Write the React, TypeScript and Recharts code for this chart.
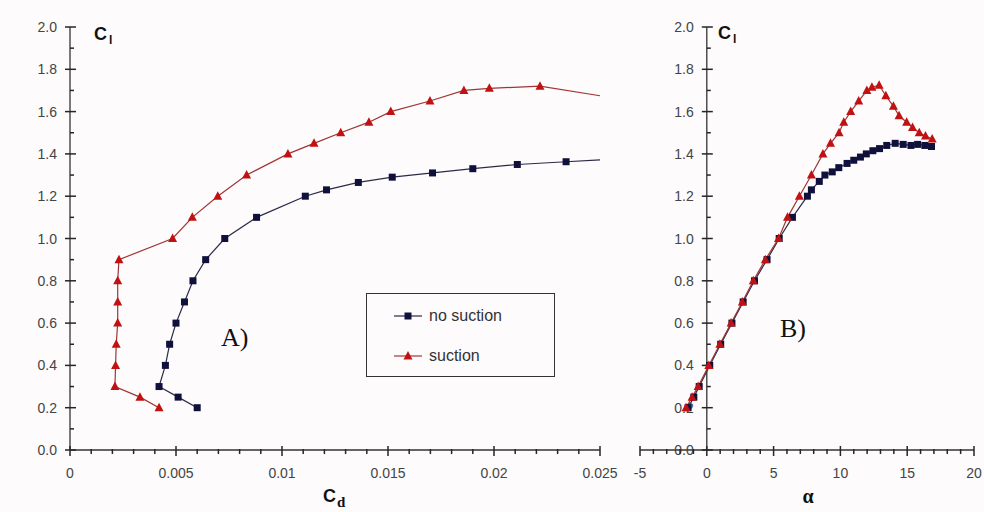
import React from 'react';
import { LineChart, Line, XAxis, YAxis, ReferenceLine, ReferenceDot, Legend } from 'recharts';

const SANS = '"Liberation Sans", Arial, sans-serif';
const SERIF = '"Liberation Serif", "Times New Roman", serif';
const AXIS = '#333333';
const TICK_LINE = '#262626';
const TICK_TEXT = '#444444';
const NAVY = '#10103c';
const NAVY_LINE = '#2b2b45';
const RED = '#c01212';
const RED_LINE = '#a03535';

// ---- Panel A: Cl vs Cd ----
const aNoSuctionCd = [0.006, 0.0051, 0.0042, 0.0045, 0.0047, 0.005, 0.0054, 0.0058, 0.0064, 0.0073, 0.0088, 0.0111, 0.0121, 0.0136, 0.0152, 0.0171, 0.019, 0.0211, 0.0234];
const aNoSuctionCl = [0.2, 0.25, 0.3, 0.4, 0.5, 0.6, 0.7, 0.8, 0.9, 1.0, 1.1, 1.2, 1.23, 1.265, 1.29, 1.31, 1.33, 1.35, 1.363];
const aNoSuctionTail = { cd: 0.025, cl: 1.372 };

const aSuctionCd = [0.0042, 0.0033, 0.00212, 0.00215, 0.00218, 0.00225, 0.00225, 0.00225, 0.00231, 0.00484, 0.00577, 0.00697, 0.00833, 0.01028, 0.01151, 0.01277, 0.0141, 0.01513, 0.01698, 0.01858, 0.01978, 0.02217];
const aSuctionCl = [0.2, 0.25, 0.3, 0.4, 0.5, 0.6, 0.7, 0.8, 0.9, 1.0, 1.1, 1.2, 1.3, 1.4, 1.45, 1.5, 1.55, 1.6, 1.65, 1.7, 1.71, 1.72];
const aSuctionTail = { cd: 0.025, cl: 1.675 };

// ---- Panel B: Cl vs alpha ----
const bNoSuctionAlpha = [-1.4, -0.97, -0.57, 0.22, 1.04, 1.88, 2.72, 3.57, 4.51, 5.42, 6.41, 7.53, 7.83, 8.42, 8.84, 9.39, 9.88, 10.5, 11.0, 11.5, 11.94, 12.43, 12.93, 13.47, 14.1, 14.7, 15.28, 15.78, 16.32, 16.82];
const bNoSuctionCl = [0.2, 0.25, 0.3, 0.4, 0.5, 0.6, 0.7, 0.8, 0.9, 1.0, 1.1, 1.2, 1.23, 1.27, 1.3, 1.315, 1.335, 1.355, 1.37, 1.385, 1.4, 1.415, 1.425, 1.44, 1.45, 1.445, 1.44, 1.445, 1.44, 1.435];

const bSuctionAlpha = [-1.55, -1.1, -0.65, 0.15, 0.98, 1.82, 2.66, 3.48, 4.38, 5.37, 6.04, 6.93, 7.83, 8.69, 9.26, 9.9, 10.25, 10.77, 11.37, 11.98, 12.36, 12.9, 13.4, 13.97, 14.39, 14.96, 15.4, 15.9, 16.37, 16.87];
const bSuctionCl = [0.2, 0.25, 0.3, 0.4, 0.5, 0.6, 0.7, 0.8, 0.9, 1.0, 1.1, 1.2, 1.3, 1.4, 1.45, 1.5, 1.55, 1.6, 1.65, 1.7, 1.715, 1.725, 1.675, 1.625, 1.58, 1.55, 1.525, 1.5, 1.485, 1.47];

// ---- Ticks ----
const clTicks = [0, 0.1, 0.2, 0.3, 0.4, 0.5, 0.6, 0.7, 0.8, 0.9, 1.0, 1.1, 1.2, 1.3, 1.4, 1.5, 1.6, 1.7, 1.8, 1.9, 2.0];
const clMajor = [0, 0.2, 0.4, 0.6, 0.8, 1.0, 1.2, 1.4, 1.6, 1.8, 2.0];
const cdTicks = [0, 0.001, 0.002, 0.003, 0.004, 0.005, 0.006, 0.007, 0.008, 0.009, 0.01, 0.011, 0.012, 0.013, 0.014, 0.015, 0.016, 0.017, 0.018, 0.019, 0.02, 0.021, 0.022, 0.023, 0.024, 0.025];
const cdMajor = [0, 0.005, 0.01, 0.015, 0.02, 0.025];
const alphaTicks = [-5, -4, -3, -2, -1, 0, 1, 2, 3, 4, 5, 6, 7, 8, 9, 10, 11, 12, 13, 14, 15, 16, 17, 18, 19, 20];
const alphaMajor = [-5, 0, 5, 10, 15, 20];

const isIn = (arr: number[], v: number) => arr.some((m) => Math.abs(m - v) < 1e-9);

const aNoSuction = [...aNoSuctionCd.map((cd, i) => ({ cd, cl: aNoSuctionCl[i] })), { ...aNoSuctionTail, tail: true }];
const aSuction = [...aSuctionCd.map((cd, i) => ({ cd, cl: aSuctionCl[i] })), { ...aSuctionTail, tail: true }];
const bNoSuction = bNoSuctionAlpha.map((a, i) => ({ a, cl: bNoSuctionCl[i] }));
const bSuction = bSuctionAlpha.map((a, i) => ({ a, cl: bSuctionCl[i] }));

const Square = (p: any) => {
  if (p.cx == null || p.cy == null || (p.payload && p.payload.tail)) return <g key={`sq-${p.index}`} />;
  return <rect key={`sq-${p.index}`} x={p.cx - 3.5} y={p.cy - 3.5} width={7} height={7} fill={NAVY} />;
};
const Triangle = (p: any) => {
  if (p.cx == null || p.cy == null || (p.payload && p.payload.tail)) return <g key={`tr-${p.index}`} />;
  const { cx, cy } = p;
  return <polygon key={`tr-${p.index}`} points={`${cx},${cy - 5} ${cx - 4.5},${cy + 3.5} ${cx + 4.5},${cy + 3.5}`} fill={RED} />;
};

const XTick = (p: any) => {
  const x = Number(p.x);
  const y = Number(p.y);
  const v = p.payload.value;
  const isMajor = isIn(p.major, v);
  return (
    <g>
      <path
        d={isMajor ? `M${x},${y - 4}L${x},${y + 6}` : `M${x},${y - 1}L${x},${y + 4}`}
        stroke={TICK_LINE}
        strokeWidth={1.5}
        fill="none"
      />
      {isMajor && (
        <text x={x} y={y + 28} textAnchor="middle" fill={TICK_TEXT} fontSize={14} fontFamily={SANS}>
          {String(v)}
        </text>
      )}
    </g>
  );
};

const YTickMark = ({ x, y, v }: { x: number; y: number; v: number }) => {
  const isMajor = isIn(clMajor, v);
  return (
    <g>
      <path
        d={isMajor ? `M${x - 5},${y}L${x + 6},${y}` : `M${x},${y}L${x + 4},${y}`}
        stroke={TICK_LINE}
        strokeWidth={1.5}
        fill="none"
      />
      {isMajor && (
        <text x={x - 13} y={y + 5} textAnchor="end" fill={TICK_TEXT} fontSize={14} fontFamily={SANS}>
          {v.toFixed(1)}
        </text>
      )}
    </g>
  );
};

const YTick = (p: any) => <YTickMark x={Number(p.x)} y={Number(p.y)} v={p.payload.value} />;

const LegendBox = (props: any) => {
  const payload = props.payload || [];
  return (
    <div
      style={{
        width: 189,
        height: 84,
        border: `1px solid ${AXIS}`,
        boxSizing: 'border-box',
        position: 'relative',
        background: 'transparent',
      }}
    >
      {payload.map((entry: any, i: number) => {
        const isSuction = entry.value === 'suction';
        const top = i === 0 ? 22 : 62;
        return (
          <div key={entry.value} style={{ position: 'absolute', left: 26, top: top - 10, height: 20, display: 'flex', alignItems: 'center' }}>
            <svg width={30} height={20}>
              <line x1={1} x2={29} y1={10} y2={10} stroke={isSuction ? RED_LINE : NAVY_LINE} strokeWidth={1.2} />
              {isSuction ? (
                <polygon points="15,5 10.5,13.5 19.5,13.5" fill={RED} />
              ) : (
                <rect x={11.5} y={6.5} width={7} height={7} fill={NAVY} />
              )}
            </svg>
            <span style={{ marginLeft: 6, fontFamily: SANS, fontSize: 16, color: '#333' }}>{entry.value}</span>
          </div>
        );
      })}
    </div>
  );
};

export default function App() {
  return (
    <div style={{ position: 'absolute', left: 0, top: 0, width: 984, height: 512, background: '#fdfbfc', overflow: 'hidden' }}>
      <div style={{ position: 'absolute', left: 0, top: 0 }}>
        <LineChart width={620} height={512} margin={{ top: 27, right: 20, left: 0, bottom: 0 }}>
          <XAxis
            type="number"
            dataKey="cd"
            domain={[0, 0.025]}
            ticks={cdTicks}
            interval={0}
            height={62}
            tickSize={0}
            tickMargin={0}
            tickLine={false}
            axisLine={{ stroke: AXIS, strokeWidth: 1.3 }}
            tick={(p: any) => <XTick {...p} major={cdMajor} />}
          />
          <YAxis
            type="number"
            domain={[0, 2]}
            ticks={clTicks}
            interval={0}
            width={70}
            tickSize={0}
            tickMargin={0}
            tickLine={false}
            axisLine={{ stroke: AXIS, strokeWidth: 1.3 }}
            tick={(p: any) => <YTick {...p} />}
          />
          <Legend
            layout="horizontal"
            verticalAlign="middle"
            align="center"
            wrapperStyle={{ left: 366, top: 293, width: 189, height: 84 }}
            content={(p: any) => <LegendBox {...p} />}
          />
          <Line
            name="no suction"
            data={aNoSuction}
            dataKey="cl"
            type="linear"
            stroke={NAVY_LINE}
            strokeWidth={1.2}
            dot={Square}
            activeDot={false}
            isAnimationActive={false}
          />
          <Line
            name="suction"
            data={aSuction}
            dataKey="cl"
            type="linear"
            stroke={RED_LINE}
            strokeWidth={1.2}
            dot={Triangle}
            activeDot={false}
            isAnimationActive={false}
          />
        </LineChart>
      </div>
      <div style={{ position: 'absolute', left: 620, top: 0 }}>
        <LineChart width={364} height={512} margin={{ top: 27, right: 10, left: 20, bottom: 0 }}>
          <XAxis
            type="number"
            dataKey="a"
            domain={[-5, 20]}
            ticks={alphaTicks}
            interval={0}
            height={62}
            tickSize={0}
            tickMargin={0}
            tickLine={false}
            axisLine={{ stroke: AXIS, strokeWidth: 1.3 }}
            tick={(p: any) => <XTick {...p} major={alphaMajor} />}
          />
          <YAxis type="number" domain={[0, 2]} hide />
          <ReferenceLine x={0} stroke={AXIS} strokeWidth={1.3} />
          {clTicks.map((v) => (
            <ReferenceDot
              key={`yt-${v}`}
              x={0}
              y={v}
              r={0}
              ifOverflow="visible"
              shape={(p: any) => <YTickMark x={Number(p.cx)} y={Number(p.cy)} v={v} />}
            />
          ))}
          <Line
            name="no suction"
            data={bNoSuction}
            dataKey="cl"
            type="linear"
            stroke={NAVY_LINE}
            strokeWidth={1.2}
            dot={Square}
            activeDot={false}
            isAnimationActive={false}
          />
          <Line
            name="suction"
            data={bSuction}
            dataKey="cl"
            type="linear"
            stroke={RED_LINE}
            strokeWidth={1.2}
            dot={Triangle}
            activeDot={false}
            isAnimationActive={false}
          />
        </LineChart>
      </div>
      <svg width={984} height={512} style={{ position: 'absolute', left: 0, top: 0, pointerEvents: 'none' }}>
        <text x={94} y={40} fontFamily={SANS} fontWeight="bold" fontSize={18} fill="#111">C</text>
        <text x={109} y={44} fontFamily={SANS} fontWeight="bold" fontSize={12} fill="#111">l</text>
        <text x={718} y={39} fontFamily={SANS} fontWeight="bold" fontSize={18} fill="#111">C</text>
        <text x={733} y={43} fontFamily={SANS} fontWeight="bold" fontSize={12} fill="#111">l</text>
        <text x={323} y={502} fontFamily={SANS} fontWeight="bold" fontSize={18} fill="#111">C</text>
        <text x={337} y={507} fontFamily={SERIF} fontWeight="bold" fontSize={15} fill="#111">d</text>
        <text x={808} y={503} textAnchor="middle" fontFamily={SERIF} fontWeight="bold" fontSize={20} fill="#111">α</text>
        <text x={221} y={346} fontFamily={SERIF} fontSize={26} fill="#111">A)</text>
        <text x={780} y={337} fontFamily={SERIF} fontSize={26} fill="#111">B)</text>
      </svg>
    </div>
  );
}
